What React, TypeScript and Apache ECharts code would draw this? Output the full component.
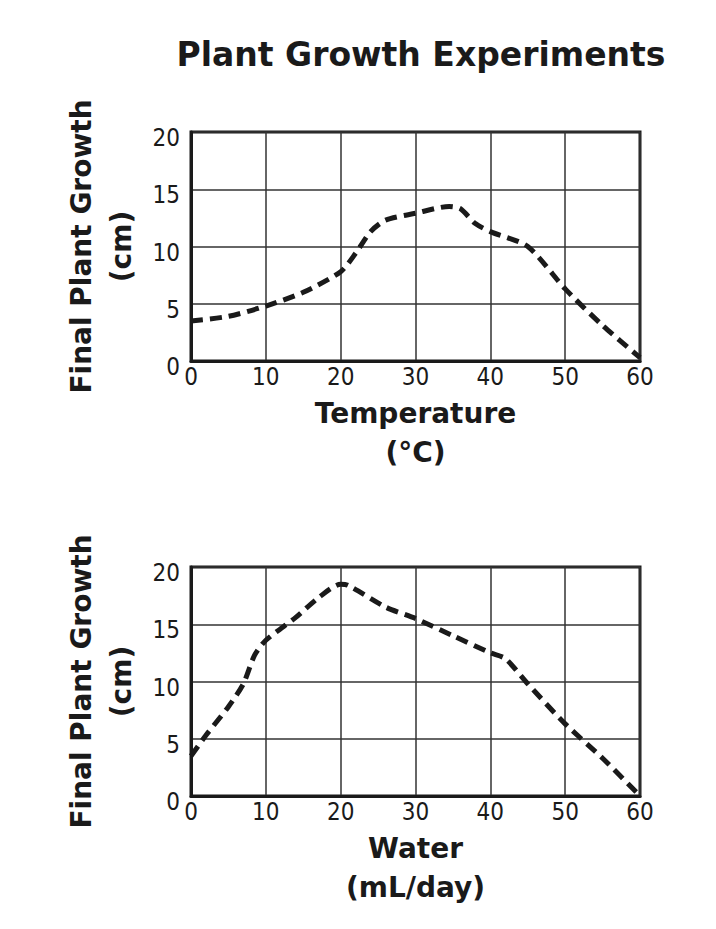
import * as echarts from "echarts"
import { useEffect, useRef } from "react"

// 温度实验 (°C -> cm)
const tempX = [0, 5, 10, 15, 20, 22, 24, 26, 30, 34.5, 36, 38, 40, 45, 50, 55, 60]
const tempY = [3.5, 3.9, 4.8, 6, 7.8, 9.4, 11.3, 12.3, 12.9, 13.5, 13.3, 12, 11.3, 10, 6.3, 3.1, 0.3]

// 水量实验 (mL/day -> cm)
const waterX = [0, 2, 5, 7, 8.5, 10, 14, 17, 20, 21, 26, 30, 35, 40, 42, 45, 50, 55, 60]
const waterY = [3.5, 5.3, 7.8, 9.8, 12.3, 13.6, 15.6, 17.3, 18.5, 18.4, 16.5, 15.5, 14, 12.5, 12, 9.8, 6.3, 3.3, 0]

const title = "Plant Growth Experiments"
const yName = "Final Plant Growth\n(cm)"
const xNames = ["Temperature\n(°C)", "Water\n(mL/day)"]

const ink = "#1a1a1a"
const boldFont = "DejaVu Sans"
const tickFont = "DejaVu Sans Condensed"

export default function App() {
  const chartRef = useRef<HTMLDivElement>(null)

  useEffect(() => {
    if (!chartRef.current) return
    const chart = echarts.init(chartRef.current, null, { renderer: "svg" })

    const grids = [
      { left: 191, top: 132, width: 449, height: 229 },
      { left: 191, top: 567, width: 449, height: 229 },
    ]

    const xAxis = xNames.map((name, i) => ({
      type: "value" as const,
      gridIndex: i,
      min: 0,
      max: 60,
      interval: 10,
      name,
      nameLocation: "middle" as const,
      nameGap: 33,
      nameTextStyle: { color: ink, fontSize: 28, fontWeight: "bold" as const, fontFamily: boldFont, lineHeight: 39 },
      axisLine: { show: true, lineStyle: { color: ink, width: 3 } },
      axisTick: { show: false },
      axisLabel: { color: ink, fontSize: 24, fontFamily: tickFont, margin: 4 },
      splitLine: { show: true, lineStyle: { color: "#333", width: 1.5 } },
    }))

    // y 刻度文字略低于网格线
    const yAxis = grids.map((_, i) => ({
      type: "value" as const,
      gridIndex: i,
      min: 0,
      max: 20,
      interval: 5,
      name: yName,
      nameLocation: "middle" as const,
      nameRotate: 90,
      nameGap: 50,
      nameTextStyle: { color: ink, fontSize: 28, fontWeight: "bold" as const, fontFamily: boldFont, lineHeight: 40 },
      axisLine: { show: true, lineStyle: { color: ink, width: 3 } },
      axisTick: { show: false },
      axisLabel: { color: ink, fontSize: 24, fontFamily: tickFont, margin: 11, verticalAlign: "top" as const, lineHeight: 12 },
      splitLine: { show: true, lineStyle: { color: "#333", width: 1.5 } },
    }))

    const lineStyle = { color: ink, width: 5, type: [12, 7] as number[] }

    chart.setOption({
      animation: false,
      backgroundColor: "#fff",
      title: {
        text: title,
        left: 416,
        top: 33,
        textAlign: "center",
        textStyle: { color: ink, fontSize: 33, fontWeight: "bold", fontFamily: boldFont },
      },
      grid: grids.map(g => ({ ...g, show: true, borderColor: ink, borderWidth: 3 })),
      xAxis,
      yAxis,
      series: [
        {
          type: "line",
          xAxisIndex: 0,
          yAxisIndex: 0,
          data: tempX.map((x, i) => [x, tempY[i]]),
          smooth: 0.25,
          showSymbol: false,
          lineStyle,
          z: 5,
        },
        {
          type: "line",
          xAxisIndex: 1,
          yAxisIndex: 1,
          data: waterX.map((x, i) => [x, waterY[i]]),
          smooth: 0.25,
          showSymbol: false,
          lineStyle,
          z: 5,
        },
      ],
    })

    return () => chart.dispose()
  }, [])

  return <div ref={chartRef} style={{ position: "fixed", left: 0, top: 0, width: 716, height: 929 }} />
}
